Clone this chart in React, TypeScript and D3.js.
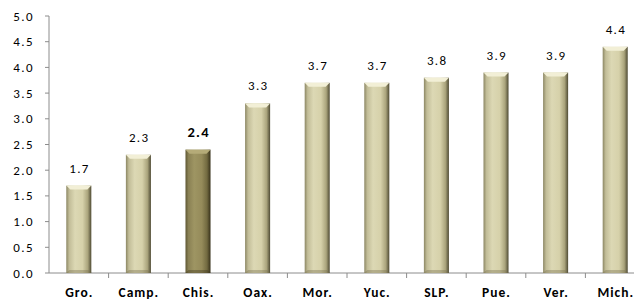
import { useEffect, useRef } from 'react'
import * as d3 from 'd3'

const states = ['Gro.', 'Camp.', 'Chis.', 'Oax.', 'Mor.', 'Yuc.', 'SLP.', 'Pue.', 'Ver.', 'Mich.']
const values = [1.7, 2.3, 2.4, 3.3, 3.7, 3.7, 3.8, 3.9, 3.9, 4.4]
const highlight = 'Chis.'
const yTicks = [0, 0.5, 1, 1.5, 2, 2.5, 3, 3.5, 4, 4.5, 5]

const W = 634
const H = 303
const font = "Calibri, Carlito, 'Open Sans', 'Liberation Sans', sans-serif"

const App = () => {
  const ref = useRef<SVGSVGElement>(null)

  useEffect(() => {
    const svg = d3.select(ref.current)
    svg.selectAll('*').remove()

    const left = 49
    const x = d3.scaleBand().domain(states).range([left, left + 596]).paddingInner(0.58).paddingOuter(0.29)
    const y = d3.scaleLinear().domain([0, 5]).range([273, 16])

    const defs = svg.append('defs')
    const mkGrad = (id: string, stops: [number, string][]) => {
      const g = defs.append('linearGradient').attr('id', id).attr('x1', '0').attr('x2', '1').attr('y1', '0').attr('y2', '0')
      stops.forEach(([o, c]) => g.append('stop').attr('offset', o).attr('stop-color', c))
    }
    mkGrad('barG', [[0, '#8c8764'], [0.12, '#c2bd98'], [0.35, '#dcd8b4'], [0.65, '#d6d1aa'], [0.86, '#aaa47c'], [1, '#4e4a33']])
    mkGrad('barH', [[0, '#5e5733'], [0.12, '#8a8154'], [0.35, '#9e9563'], [0.65, '#958b5a'], [0.86, '#726a40'], [1, '#363019']])

    // y axis
    const ax = svg.append('g')
    ax.append('line').attr('x1', left).attr('x2', left).attr('y1', y(5)).attr('y2', y(0)).attr('stroke', '#8c8c8c')
    yTicks.forEach((t) => {
      ax.append('line').attr('x1', left - 4).attr('x2', left).attr('y1', y(t)).attr('y2', y(t)).attr('stroke', '#8c8c8c')
      ax.append('text').attr('x', left - 15).attr('y', y(t)).attr('dy', '0.35em').attr('text-anchor', 'end')
        .attr('font-family', font).attr('font-size', 13).attr('letter-spacing', 1.4).attr('fill', '#000')
        .text(d3.format('.1f')(t))
    })

    // x axis
    ax.append('line').attr('x1', left).attr('x2', W).attr('y1', y(0)).attr('y2', y(0)).attr('stroke', '#8c8c8c')
    const step = x.step()
    states.forEach((_, i) => {
      const tx = left + step * i
      if (i > 0) ax.append('line').attr('x1', tx).attr('x2', tx).attr('y1', y(0)).attr('y2', y(0) + 5).attr('stroke', '#8c8c8c')
    })

    const bars = svg.append('g')
    states.forEach((s, i) => {
      const bx = x(s)!
      const bw = x.bandwidth()
      const top = y(values[i])
      const bot = y(0)
      const hi = s === highlight
      bars.append('rect').attr('x', bx).attr('y', top).attr('width', bw).attr('height', bot - top)
        .attr('fill', `url(#${hi ? 'barH' : 'barG'})`)
      // bevelled top and a faint shadow at the foot
      const bev = 4
      bars.append('path')
        .attr('d', `M${bx},${top} L${bx + bw},${top} L${bx + bw - bev},${top + bev} L${bx + bev},${top + bev} Z`)
        .attr('fill', hi ? '#b5ab78' : '#f2efd6')
      bars.append('path')
        .attr('d', `M${bx},${bot} L${bx + bw},${bot} L${bx + bw - 3},${bot - 3} L${bx + 3},${bot - 3} Z`)
        .attr('fill', hi ? '#3e381f' : '#77714f').attr('opacity', 0.4)

      bars.append('text').attr('x', bx + bw / 2 + 0.7).attr('y', top - 13).attr('text-anchor', 'middle')
        .attr('font-family', font).attr('font-size', hi ? 14.5 : 13).attr('font-weight', hi ? 'bold' : 'normal')
        .attr('letter-spacing', 1.3).attr('fill', '#000').text(values[i].toFixed(1))

      svg.append('text').attr('x', bx + bw / 2 + 0.5).attr('y', 297).attr('text-anchor', 'middle')
        .attr('font-family', font).attr('font-size', 13.5).attr('font-weight', 'bold').attr('letter-spacing', 1)
        .attr('fill', '#000').text(s)
    })
  }, [])

  return (
    <svg ref={ref} width={W} height={H} style={{ position: 'absolute', left: 0, top: 0, background: '#fff' }} />
  )
}

export default App
